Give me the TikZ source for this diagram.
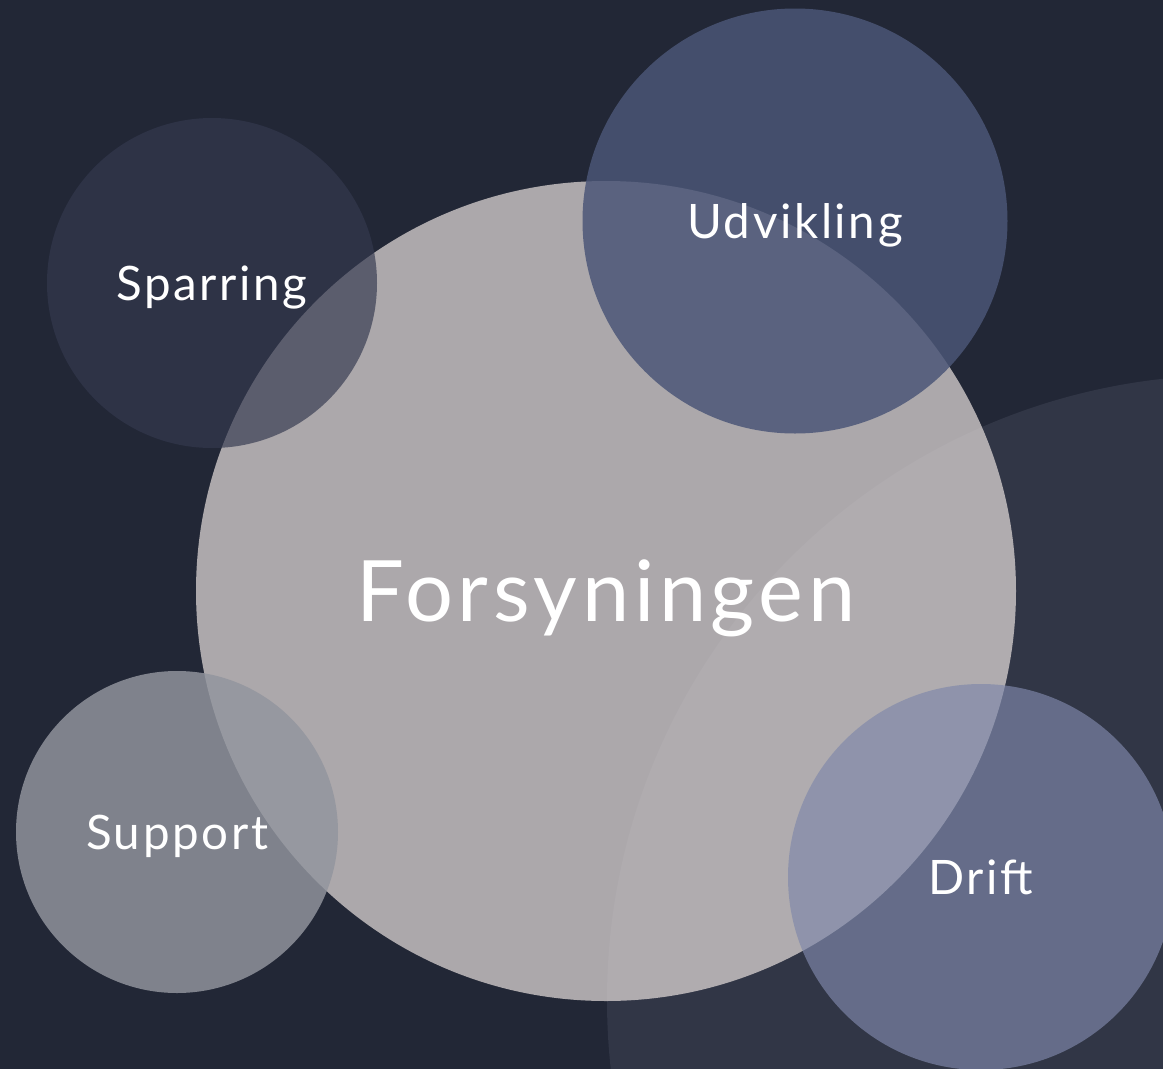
\documentclass[tikz,border=0pt]{standalone}
\usepackage{fontspec}
\setmainfont{Lato}
\newfontfamily\labelfont[LetterSpace=5.5]{Lato}
\definecolor{bgc}{RGB}{34,39,54}
\definecolor{bigc}{RGB}{49,54,70}
\definecolor{forsc}{RGB}{219,212,211}
\definecolor{sparc}{RGB}{52,57,79}
\definecolor{udvc}{RGB}{75,86,119}
\definecolor{supc}{RGB}{146,149,158}
\definecolor{driftc}{RGB}{127,136,170}
\begin{document}
\begin{tikzpicture}[x=1pt,y=-1pt,
  bubble/.style={circle, inner sep=0pt, text=white, text opacity=1,
    font=\labelfont\fontsize{47.5}{50}\selectfont, text height=34pt, text depth=0pt},
  bigbubble/.style={bubble, font=\labelfont\fontsize{84.7}{90}\selectfont, text height=60.7pt}
]
\useasboundingbox (0,0) rectangle (1163,1069);
\clip (0,0) rectangle (1163,1069);
\fill[bgc] (0,0) rectangle (1163,1069);
\node[circle, inner sep=0pt, fill=bigc, minimum size=1250pt] (back) at (1232,1000) {};
\node[bigbubble, fill=forsc, fill opacity=.75, minimum size=820pt] (fors) at (606,591) {Forsyningen};
\node[bubble, fill=sparc, fill opacity=.67, minimum size=330pt] (spar) at (212,283) {Sparring};
\node[bubble, fill=udvc, fill opacity=.845, minimum size=425pt] (udv) at (795,221) {Udvikling};
\node[bubble, fill=supc, fill opacity=.83, minimum size=322pt] (sup) at (177,832) {Support};
\node[bubble, fill=driftc, fill opacity=.67, minimum size=386pt] (drift) at (981,877) {Drift};
\end{tikzpicture}
\end{document}
